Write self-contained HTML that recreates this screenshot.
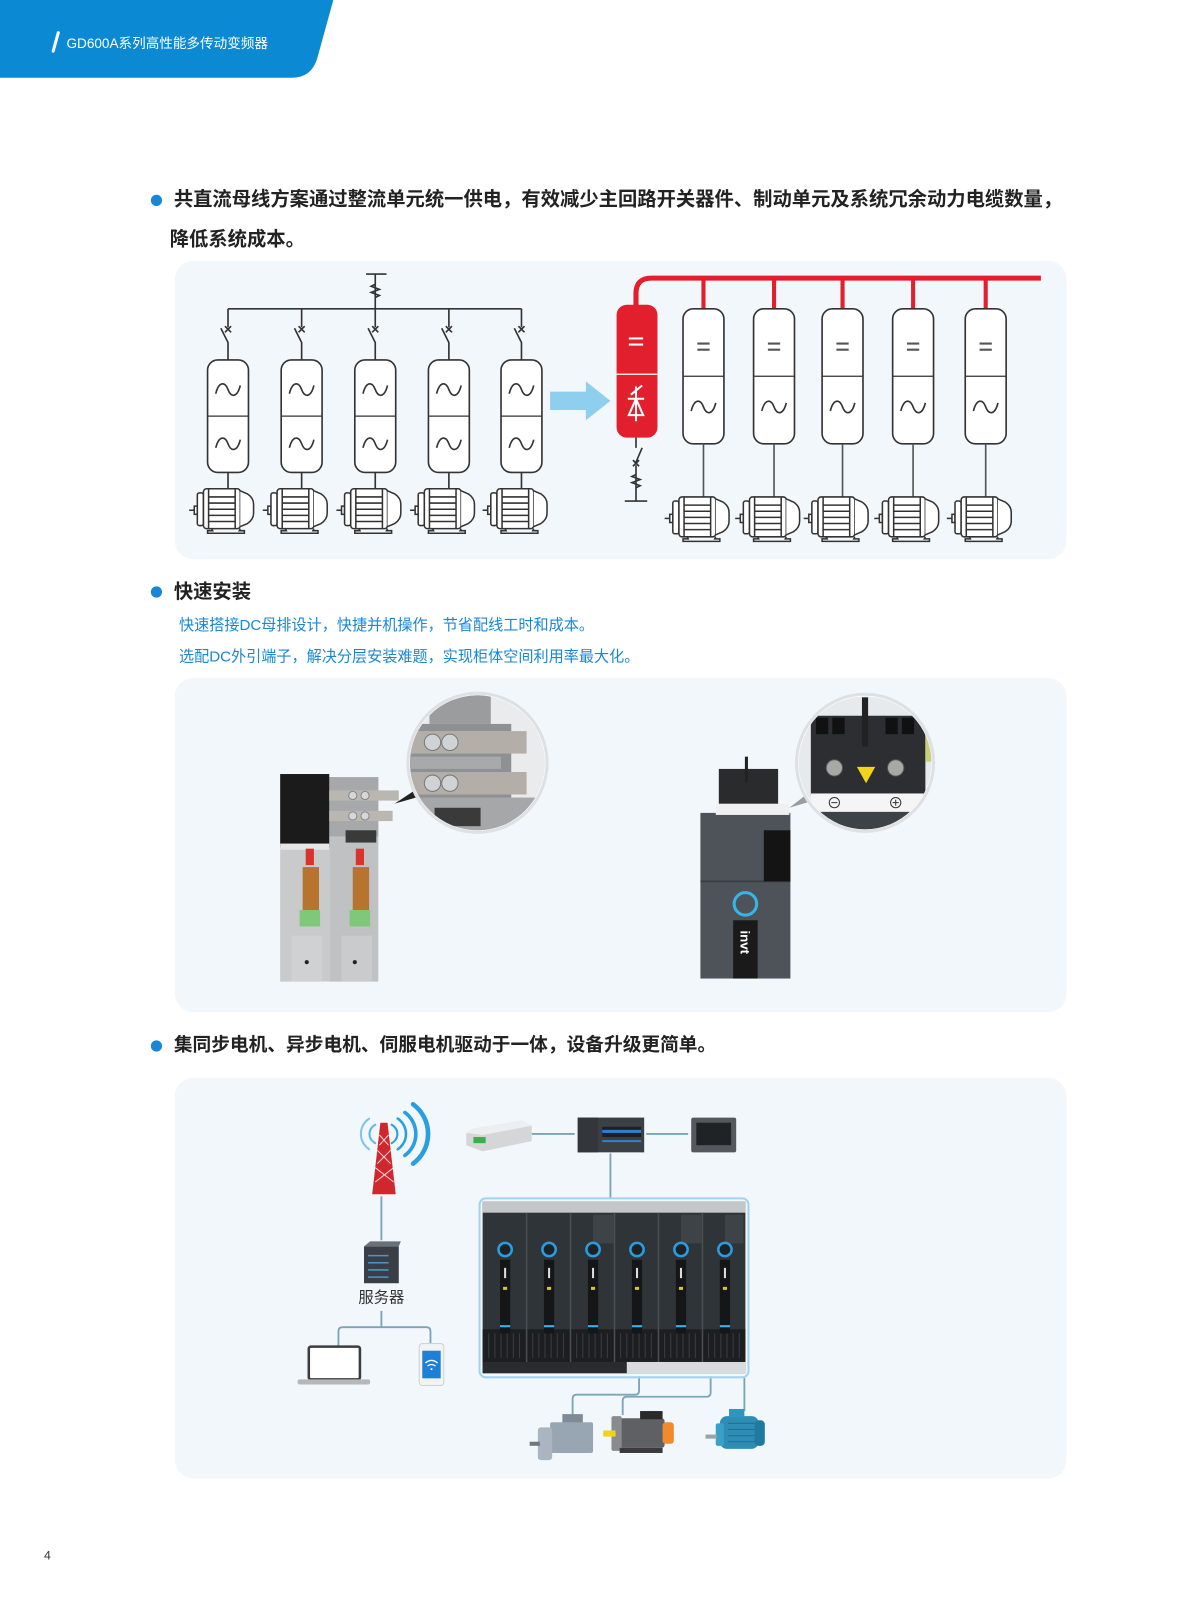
<!DOCTYPE html>
<html><head><meta charset="utf-8">
<style>
html,body{margin:0;padding:0;background:#fff;}
body{width:1178px;height:1600px;overflow:hidden;position:relative;}
svg{position:absolute;left:0;top:0;}
text{font-family:"Liberation Sans","Noto Sans CJK SC",sans-serif;}
</style></head>
<body>
<svg width="1178" height="1600" viewBox="0 0 1178 1600" xmlns="http://www.w3.org/2000/svg">
<defs>
  <g id="motor" fill="none" stroke="#333" stroke-width="1.5">
    <path d="M-38 21 H-33"/>
    <rect x="-33" y="17" width="3" height="8" fill="#fff"/>
    <rect x="-30" y="4" width="6" height="32" rx="2" fill="#fff"/>
    <rect x="-24" y="0" width="36" height="39" rx="3" fill="#fff"/>
    <line x1="-19" y1="0" x2="-19" y2="39"/>
    <line x1="7" y1="0" x2="7" y2="39"/>
    <line x1="-19" y1="8" x2="7" y2="8"/>
    <line x1="-19" y1="14" x2="7" y2="14"/>
    <line x1="-19" y1="20" x2="7" y2="20"/>
    <line x1="-19" y1="26" x2="7" y2="26"/>
    <line x1="-19" y1="32" x2="7" y2="32"/>
    <path d="M12 2 L19 5 Q25 9 25 15 V24 Q25 30 19 34 L12 37" fill="#fff"/>
    <path d="M-16 39 L-15 41 H-20 V43.5 H16 V41 H11 L12 39"/>
  </g>
  <path id="tilde" d="M-12 4 C-9 -8 -3 -8 0 0 C3 8 9 8 12 -4" fill="none" stroke="#333" stroke-width="1.6"/>
  <clipPath id="c1"><circle cx="467" cy="746" r="66"/></clipPath>
  <clipPath id="c2"><circle cx="846" cy="746" r="65"/></clipPath>
</defs>

<g transform="scale(1.0225)">
<!-- header -->
<path d="M0 0 H326 L310 58 Q304 76 286 76 H0 Z" fill="#0b89d3"/>
<path d="M52 50 L57 32" stroke="#fff" stroke-width="3" stroke-linecap="round"/>
<text x="65" y="47" font-size="13.3" fill="#fff">GD600A系列高性能多传动变频器</text>

<!-- section 1 -->
<circle cx="153" cy="196" r="5.5" fill="#1a87d4"/>
<text x="170" y="201" font-size="18.9" font-weight="700" fill="#222">共直流母线方案通过整流单元统一供电，有效减少主回路开关器件、制动单元及系统冗余动力电缆数量，</text>
<text x="166" y="240" font-size="18.9" font-weight="700" fill="#222">降低系统成本。</text>

<rect x="171" y="255" width="872" height="292" rx="18" fill="#f2f7fc"/>

<!-- left diagram -->
<g stroke="#333" stroke-width="1.6" fill="none">
  <line x1="358" y1="268" x2="378" y2="268"/>
  <line x1="367" y1="268" x2="367" y2="302"/>
  <path d="M367 278 l-4 2 l8 3 l-8 3 l8 3 l-4 2"/>
  <line x1="223" y1="302" x2="510" y2="302"/>
</g>
<g stroke="#333" stroke-width="1.6" fill="none">
  <path d="M223 302 V320 M216 321 L223 335 V352 M220 319 l6 6 M226 319 l-6 6"/>
  <path d="M295 302 V320 M288 321 L295 335 V352 M292 319 l6 6 M298 319 l-6 6"/>
  <path d="M367 302 V320 M360 321 L367 335 V352 M364 319 l6 6 M370 319 l-6 6"/>
  <path d="M439 302 V320 M432 321 L439 335 V352 M436 319 l6 6 M442 319 l-6 6"/>
  <path d="M510 302 V320 M503 321 L510 335 V352 M507 319 l6 6 M513 319 l-6 6"/>
  <rect x="203" y="352" width="40" height="110" rx="10" fill="#fff"/>
  <rect x="275" y="352" width="40" height="110" rx="10" fill="#fff"/>
  <rect x="347" y="352" width="40" height="110" rx="10" fill="#fff"/>
  <rect x="419" y="352" width="40" height="110" rx="10" fill="#fff"/>
  <rect x="490" y="352" width="40" height="110" rx="10" fill="#fff"/>
  <path d="M203 407 h40 M275 407 h40 M347 407 h40 M419 407 h40 M490 407 h40" stroke-width="1.2"/>
  <path d="M223 462 V478 M295 462 V478 M367 462 V478 M439 462 V478 M510 462 V478"/>
</g>
<use href="#tilde" x="223" y="381"/><use href="#tilde" x="223" y="434"/>
<use href="#tilde" x="295" y="381"/><use href="#tilde" x="295" y="434"/>
<use href="#tilde" x="367" y="381"/><use href="#tilde" x="367" y="434"/>
<use href="#tilde" x="439" y="381"/><use href="#tilde" x="439" y="434"/>
<use href="#tilde" x="510" y="381"/><use href="#tilde" x="510" y="434"/>
<use href="#motor" x="223" y="478"/>
<use href="#motor" x="295" y="478"/>
<use href="#motor" x="367" y="478"/>
<use href="#motor" x="439" y="478"/>
<use href="#motor" x="510" y="478"/>

<!-- arrow -->
<polygon points="538,383 573,383 573,373 597,392 573,411 573,401 538,401" fill="#8ecff0"/>

<!-- right diagram -->
<path d="M622 300 V287 Q622 272 637 272 H1018" stroke="#e21f2c" stroke-width="5" fill="none"/>
<g stroke="#e21f2c" stroke-width="4">
  <line x1="688" y1="272" x2="688" y2="302"/>
  <line x1="757" y1="272" x2="757" y2="302"/>
  <line x1="824" y1="272" x2="824" y2="302"/>
  <line x1="893" y1="272" x2="893" y2="302"/>
  <line x1="964" y1="272" x2="964" y2="302"/>
</g>
<rect x="603" y="298" width="40" height="130" rx="10" fill="#e21f2c"/>
<line x1="603" y1="366" x2="643" y2="366" stroke="#fff" stroke-width="1.2"/>
<g stroke="#fff" stroke-width="2" fill="none">
  <line x1="615" y1="331" x2="629" y2="331"/>
  <line x1="615" y1="337" x2="629" y2="337"/>
  <line x1="622" y1="378" x2="622" y2="412"/>
  <polygon points="615,406 629,406 622,390"/>
  <line x1="614" y1="390" x2="630" y2="390"/>
  <line x1="617" y1="386" x2="628" y2="377"/>
</g>
<g stroke="#333" stroke-width="1.6" fill="none">
  <path d="M622 428 V438 M628 438 L622 452 M619 450 l6 6 M625 450 l-6 6 M622 455 V490"/>
  <path d="M622 464 l-4 2 l8 3 l-8 3 l8 3 l-4 2"/>
  <line x1="611" y1="490" x2="633" y2="490"/>
  <rect x="668" y="302" width="40" height="132" rx="10" fill="#fff"/>
  <rect x="737" y="302" width="40" height="132" rx="10" fill="#fff"/>
  <rect x="804" y="302" width="40" height="132" rx="10" fill="#fff"/>
  <rect x="873" y="302" width="40" height="132" rx="10" fill="#fff"/>
  <rect x="944" y="302" width="40" height="132" rx="10" fill="#fff"/>
  <path d="M668 368 h40 M737 368 h40 M804 368 h40 M873 368 h40 M944 368 h40" stroke-width="1.2"/>
  <path d="M688 434 V486 M757 434 V486 M824 434 V486 M893 434 V486 M964 434 V486" stroke="#555"/>
</g>
<g stroke="#555" stroke-width="2">
  <path d="M682 336 h12 M682 342 h12 M751 336 h12 M751 342 h12 M818 336 h12 M818 342 h12 M887 336 h12 M887 342 h12 M958 336 h12 M958 342 h12"/>
</g>
<use href="#tilde" x="688" y="398"/>
<use href="#tilde" x="757" y="398"/>
<use href="#tilde" x="824" y="398"/>
<use href="#tilde" x="893" y="398"/>
<use href="#tilde" x="964" y="398"/>
<use href="#motor" x="688" y="486"/>
<use href="#motor" x="757" y="486"/>
<use href="#motor" x="824" y="486"/>
<use href="#motor" x="893" y="486"/>
<use href="#motor" x="964" y="486"/>

<!-- section 2 -->
<circle cx="153" cy="579" r="5.5" fill="#1a87d4"/>
<text x="170" y="585" font-size="18.9" font-weight="700" fill="#222">快速安装</text>
<text x="175" y="616" font-size="14.8" fill="#1a87d4">快速搭接DC母排设计，快捷并机操作，节省配线工时和成本。</text>
<text x="175" y="647" font-size="14.8" fill="#1a87d4">选配DC外引端子，解决分层安装难题，实现柜体空间利用率最大化。</text>

<rect x="171" y="663" width="872" height="327" rx="18" fill="#f2f7fc"/>

<!-- left photo -->
<rect x="322" y="760" width="48" height="200" fill="#bfc1c2"/>
<rect x="322" y="760" width="48" height="58" fill="#a6a8aa"/>
<rect x="338" y="812" width="30" height="12" fill="#3a3a3a"/>
<rect x="274" y="757" width="48" height="72" fill="#1b1b1b"/>
<rect x="274" y="829" width="48" height="131" fill="#c8cacb"/>
<rect x="274" y="825" width="48" height="6" fill="#e6e6e6"/>
<rect x="322" y="773" width="68" height="10" fill="#bab7b1"/>
<rect x="322" y="793" width="62" height="10" fill="#bab7b1"/>
<circle cx="345" cy="778" r="4" fill="#d5d7d8" stroke="#888"/>
<circle cx="357" cy="778" r="4" fill="#d5d7d8" stroke="#888"/>
<circle cx="345" cy="798" r="4" fill="#d5d7d8" stroke="#888"/>
<circle cx="357" cy="798" r="4" fill="#d5d7d8" stroke="#888"/>
<rect x="299" y="830" width="8" height="16" fill="#d9332b"/>
<rect x="348" y="830" width="8" height="16" fill="#d9332b"/>
<rect x="296" y="848" width="16" height="42" fill="#b7742e"/>
<rect x="345" y="848" width="16" height="42" fill="#b7742e"/>
<rect x="293" y="890" width="20" height="16" fill="#7ec87a"/>
<rect x="342" y="890" width="20" height="16" fill="#7ec87a"/>
<rect x="285" y="915" width="30" height="45" fill="#cfd1d2"/>
<rect x="334" y="915" width="30" height="45" fill="#c9cbcc"/>
<circle cx="300" cy="941" r="2" fill="#222"/>
<circle cx="347" cy="941" r="2" fill="#222"/>
<polygon points="386,786 410,770 414,778" fill="#222"/>
<circle cx="467" cy="746" r="68" fill="#fff" stroke="#dde1e4" stroke-width="3"/>
<g clip-path="url(#c1)">
  <rect x="399" y="678" width="136" height="136" fill="#e9ebec"/>
  <rect x="420" y="678" width="60" height="30" fill="#9a9c9e"/>
  <rect x="400" y="708" width="100" height="100" fill="#8e9193"/>
  <rect x="400" y="715" width="115" height="22" fill="#b3afa8"/>
  <rect x="400" y="755" width="115" height="22" fill="#b3afa8"/>
  <rect x="400" y="740" width="90" height="12" fill="#a7a9ab"/>
  <rect x="400" y="780" width="135" height="34" fill="#a5a7a9"/>
  <rect x="425" y="790" width="45" height="18" fill="#3a3a3a"/>
  <circle cx="423" cy="726" r="8" fill="#d0d3d6" stroke="#777"/>
  <circle cx="440" cy="726" r="8" fill="#d0d3d6" stroke="#777"/>
  <circle cx="423" cy="766" r="8" fill="#d0d3d6" stroke="#777"/>
  <circle cx="440" cy="766" r="8" fill="#d0d3d6" stroke="#777"/>
</g>

<!-- right photo -->
<rect x="685" y="795" width="88" height="162" fill="#4d5359"/>
<line x1="685" y1="862" x2="773" y2="862" stroke="#3a3f44" stroke-width="2"/>
<rect x="747" y="812" width="26" height="50" fill="#141414"/>
<circle cx="729" cy="884" r="11" fill="none" stroke="#39b4e6" stroke-width="3"/>
<rect x="717" y="900" width="24" height="57" fill="#1a1a1a"/>
<text x="0" y="0" font-size="13" font-weight="700" fill="#fff" transform="translate(724 910) rotate(90)">invt</text>
<rect x="703" y="752" width="58" height="36" fill="#2a2b2d"/>
<rect x="700" y="786" width="72" height="11" fill="#f0f0f0"/>
<line x1="730" y1="740" x2="730" y2="765" stroke="#222" stroke-width="3"/>
<polygon points="772,790 790,776 792,784" fill="#9a9da0"/>
<circle cx="846" cy="746" r="67" fill="#fff" stroke="#dde1e4" stroke-width="3"/>
<g clip-path="url(#c2)">
  <rect x="780" y="680" width="135" height="135" fill="#e7eaed"/>
  <rect x="793" y="700" width="112" height="78" fill="#2d2e31"/>
  <rect x="798" y="702" width="12" height="16" fill="#111"/>
  <rect x="814" y="702" width="12" height="16" fill="#111"/>
  <rect x="866" y="702" width="12" height="16" fill="#111"/>
  <rect x="882" y="702" width="12" height="16" fill="#111"/>
  <rect x="843" y="682" width="6" height="48" fill="#222"/>
  <circle cx="816" cy="751" r="8" fill="#a8a9a6" stroke="#555"/>
  <circle cx="876" cy="751" r="8" fill="#a8a9a6" stroke="#555"/>
  <polygon points="838,750 856,750 847,766" fill="#f2d419"/>
  <rect x="793" y="776" width="112" height="18" fill="#f5f5f5"/>
  <circle cx="816" cy="785" r="5" fill="none" stroke="#333"/>
  <line x1="813" y1="785" x2="819" y2="785" stroke="#333"/>
  <circle cx="876" cy="785" r="5" fill="none" stroke="#333"/>
  <path d="M873 785 h6 M876 782 v6" stroke="#333"/>
  <rect x="780" y="794" width="135" height="20" fill="#3d4246"/>
  <rect x="905" y="705" width="15" height="40" fill="#c9cf7a"/>
</g>

<!-- section 3 -->
<circle cx="153" cy="1023" r="5.5" fill="#1a87d4"/>
<text x="170" y="1028" font-size="18.3" font-weight="700" fill="#222">集同步电机、异步电机、伺服电机驱动于一体，设备升级更简单。</text>

<rect x="171" y="1054" width="872" height="392" rx="18" fill="#f2f7fc"/>

<!-- connector lines -->
<g stroke="#7ba4b9" stroke-width="1.8" fill="none">
  <line x1="520" y1="1109" x2="562" y2="1109"/>
  <line x1="632" y1="1109" x2="673" y2="1109"/>
  <line x1="597" y1="1128" x2="597" y2="1172"/>
  <line x1="373" y1="1170" x2="373" y2="1213"/>
  <path d="M373 1282 V1298 M331 1318 V1302 Q331 1298 335 1298 H417 Q421 1298 421 1302 V1315"/>
  <path d="M625 1346 V1360 Q625 1364 621 1364 H564 Q560 1364 560 1368 V1386"/>
  <path d="M695 1346 V1362 Q695 1366 691 1366 H613 Q609 1366 609 1370 V1384"/>
  <path d="M728 1346 V1380"/>
</g>

<!-- tower -->
<polygon points="372,1098 379,1098 387,1168 364,1168" fill="#d0262e"/>
<g stroke="#fff" stroke-width="1" opacity="0.8">
  <path d="M371 1110 L380 1120 M380 1110 L371 1120 M369 1125 L382 1138 M382 1125 L369 1138 M367 1142 L385 1156 M385 1142 L367 1156"/>
</g>
<g fill="none" stroke="#2a9fe0" stroke-linecap="round">
  <path d="M383 1100 A10 10 0 0 1 383 1118" stroke-width="2"/>
  <path d="M389 1094 A18 18 0 0 1 389 1124" stroke-width="2.5"/>
  <path d="M396 1088 A26 26 0 0 1 396 1130" stroke-width="3.5"/>
  <path d="M404 1080 A36 36 0 0 1 404 1138" stroke-width="4.5"/>
  <path d="M367 1100 A10 10 0 0 0 367 1118" stroke-width="2" stroke="#5ab8ea"/>
  <path d="M361 1094 A18 18 0 0 0 361 1124" stroke-width="2" stroke="#7cc6ee"/>
</g>

<!-- gateway -->
<polygon points="462,1104 510,1096 520,1101 520,1116 472,1126 456,1120 456,1108" fill="#d4d6d8"/>
<polygon points="462,1104 510,1096 520,1101 472,1110 456,1108" fill="#eceeef"/>
<rect x="463" y="1112" width="12" height="6" fill="#3bb04a"/>

<!-- PLC -->
<rect x="565" y="1093" width="65" height="34" fill="#3b4045"/>
<rect x="565" y="1093" width="20" height="34" fill="#33373b"/>
<rect x="589" y="1102" width="38" height="10" fill="#1c2024"/>
<rect x="589" y="1105" width="38" height="3" fill="#2c7fd3"/>
<rect x="589" y="1115" width="38" height="2" fill="#2c7fd3"/>

<!-- HMI -->
<rect x="676" y="1093" width="44" height="34" rx="2" fill="#55595d"/>
<rect x="681" y="1098" width="34" height="22" fill="#1f2326"/>

<!-- drive group -->
<rect x="472" y="1175" width="257" height="168" fill="#2f3438"/>
<rect x="472" y="1175" width="257" height="11" fill="#c4c7c9"/>
<rect x="472" y="1300" width="257" height="32" fill="#1c1e20"/>
<g stroke="#3a3e42" stroke-width="1">
  <path d="M478 1304 V1328 M484 1304 V1328 M490 1304 V1328 M496 1304 V1328 M502 1304 V1328 M508 1304 V1328 M521 1304 V1328 M527 1304 V1328 M533 1304 V1328 M539 1304 V1328 M545 1304 V1328 M551 1304 V1328 M564 1304 V1328 M570 1304 V1328 M576 1304 V1328 M582 1304 V1328 M588 1304 V1328 M594 1304 V1328 M607 1304 V1328 M613 1304 V1328 M619 1304 V1328 M625 1304 V1328 M631 1304 V1328 M637 1304 V1328 M650 1304 V1328 M656 1304 V1328 M662 1304 V1328 M668 1304 V1328 M674 1304 V1328 M680 1304 V1328 M693 1304 V1328 M699 1304 V1328 M705 1304 V1328 M711 1304 V1328 M717 1304 V1328 M723 1304 V1328"/>
</g>
<rect x="472" y="1332" width="141" height="11" fill="#2a2b2c"/>
<rect x="613" y="1332" width="116" height="11" fill="#d9dcde"/>
<g stroke="#4a4f54" stroke-width="1.5">
  <path d="M515 1186 V1332 M558 1186 V1332 M601 1186 V1332 M644 1186 V1332 M687 1186 V1332"/>
</g>
<rect x="580" y="1188" width="20" height="28" fill="#3e4348"/>
<rect x="666" y="1188" width="20" height="28" fill="#3e4348"/>
<rect x="709" y="1188" width="18" height="28" fill="#3e4348"/>
<g>
  <circle cx="494" cy="1222" r="6.5" fill="#1d2226" stroke="#2a9de0" stroke-width="2.5"/>
  <circle cx="537" cy="1222" r="6.5" fill="#1d2226" stroke="#2a9de0" stroke-width="2.5"/>
  <circle cx="580" cy="1222" r="6.5" fill="#1d2226" stroke="#2a9de0" stroke-width="2.5"/>
  <circle cx="623" cy="1222" r="6.5" fill="#1d2226" stroke="#2a9de0" stroke-width="2.5"/>
  <circle cx="666" cy="1222" r="6.5" fill="#1d2226" stroke="#2a9de0" stroke-width="2.5"/>
  <circle cx="709" cy="1222" r="6.5" fill="#1d2226" stroke="#2a9de0" stroke-width="2.5"/>
  <rect x="489" y="1232" width="10" height="72" fill="#141618"/>
  <rect x="532" y="1232" width="10" height="72" fill="#141618"/>
  <rect x="575" y="1232" width="10" height="72" fill="#141618"/>
  <rect x="618" y="1232" width="10" height="72" fill="#141618"/>
  <rect x="661" y="1232" width="10" height="72" fill="#141618"/>
  <rect x="704" y="1232" width="10" height="72" fill="#141618"/>
  <path d="M494 1240 v10 M537 1240 v10 M580 1240 v10 M623 1240 v10 M666 1240 v10 M709 1240 v10" stroke="#ddd" stroke-width="2"/>
  <path d="M492 1260 h4 M535 1260 h4 M578 1260 h4 M621 1260 h4 M664 1260 h4 M707 1260 h4" stroke="#e0c23a" stroke-width="3"/>
  <path d="M489 1297 h10 M532 1297 h10 M575 1297 h10 M618 1297 h10 M661 1297 h10 M704 1297 h10" stroke="#3ab0e6" stroke-width="2"/>
</g>
<rect x="469" y="1172" width="263" height="175" rx="6" fill="none" stroke="#a3d3ec" stroke-width="2"/>

<!-- server -->
<rect x="356" y="1219" width="34" height="36" fill="#3a3f47"/>
<polygon points="356,1219 362,1214 392,1214 390,1219" fill="#6a7078"/>
<path d="M360 1228 h20 M360 1235 h20 M360 1242 h20 M360 1249 h20" stroke="#4c95c9" stroke-width="1.5"/>
<text x="373" y="1274" font-size="15" fill="#333" text-anchor="middle">服务器</text>

<!-- laptop -->
<rect x="302" y="1317" width="50" height="32" rx="2" fill="#fff" stroke="#3d3d3d" stroke-width="2.5"/>
<rect x="291" y="1349" width="71" height="5" rx="2" fill="#b5b7b9"/>

<!-- phone -->
<rect x="410" y="1314" width="24" height="41" rx="3" fill="#f3f3f3" stroke="#cfd2d4"/>
<rect x="413" y="1321" width="18" height="27" fill="#1e7fd6"/>
<path d="M416 1333 q6 -5 12 0 M418 1336 q4 -3 8 0" stroke="#fff" stroke-width="1.2" fill="none"/>
<circle cx="422" cy="1339" r="1" fill="#fff"/>

<!-- bottom motors -->
<rect x="550" y="1383" width="20" height="10" fill="#7e8a96"/>
<rect x="538" y="1391" width="42" height="30" rx="2" fill="#98a5b2"/>
<rect x="526" y="1396" width="14" height="32" rx="3" fill="#abb5c0"/>
<rect x="518" y="1410" width="10" height="4" fill="#6f7880"/>

<rect x="604" y="1387" width="46" height="29" rx="3" fill="#5f6064"/>
<rect x="648" y="1391" width="11" height="21" rx="3" fill="#f08a2c"/>
<rect x="598" y="1385" width="10" height="34" rx="2" fill="#8a8b8e"/>
<rect x="590" y="1399" width="12" height="6" fill="#f0d21c"/>
<rect x="626" y="1380" width="22" height="8" fill="#2a2a2a"/>
<rect x="606" y="1416" width="42" height="5" fill="#3a3a3c"/>

<rect x="704" y="1385" width="38" height="32" rx="7" fill="#2d8db5"/>
<rect x="738" y="1389" width="10" height="25" rx="4" fill="#1f7aa0"/>
<rect x="713" y="1378" width="15" height="8" fill="#2e95bf"/>
<rect x="700" y="1392" width="8" height="22" rx="2" fill="#3aa0c8"/>
<rect x="690" y="1403" width="11" height="4" fill="#9aa3a8"/>
<path d="M712 1392 h26 M712 1398 h26 M712 1404 h26 M712 1410 h26" stroke="#1e7099" stroke-width="1"/>

<!-- page number -->
<text x="43" y="1525" font-size="12" fill="#333">4</text>
</g>
</svg>
</body></html>
